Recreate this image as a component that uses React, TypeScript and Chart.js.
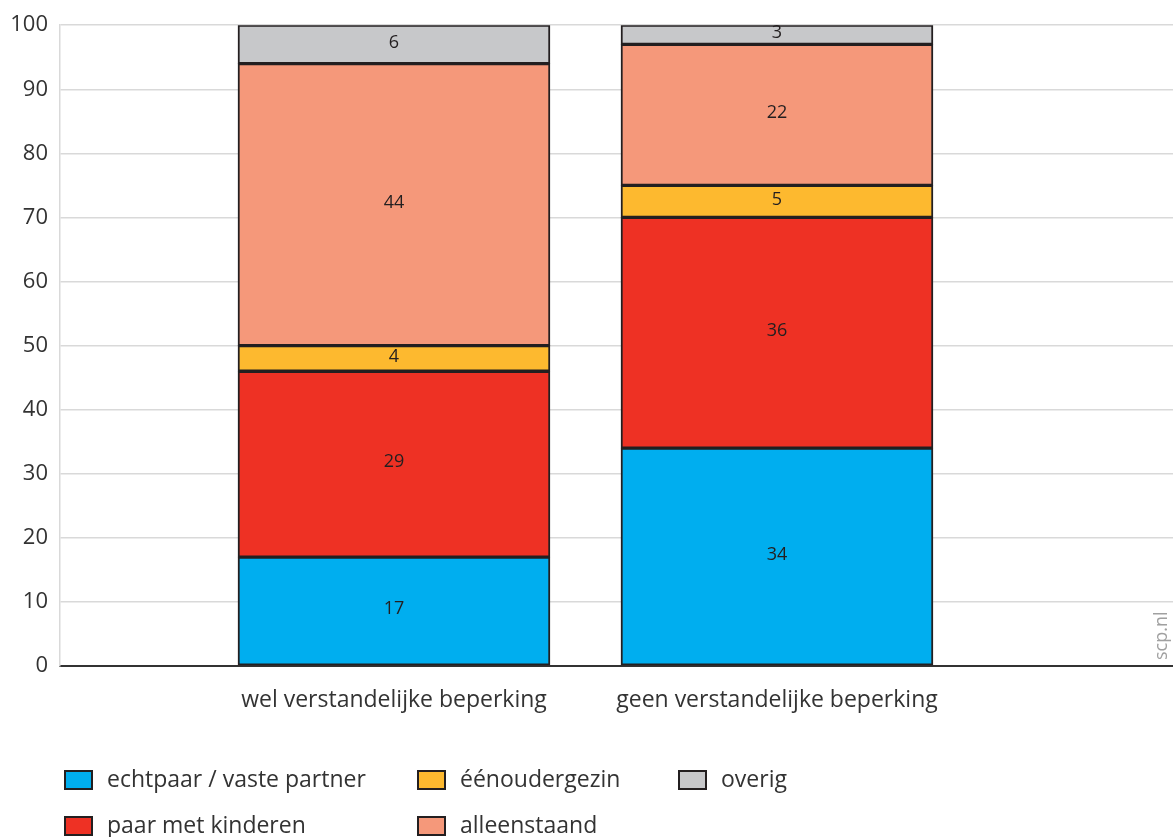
import React, { useEffect, useRef } from "react";
import { Chart, registerables } from "chart.js";

Chart.register(...registerables);

const categories = ["wel verstandelijke beperking", "geen verstandelijke beperking"];
const categoryPositions = [1, 2];
const seriesNames = ["echtpaar / vaste partner", "paar met kinderen", "éénoudergezin", "alleenstaand", "overig"];
const echtpaar = [17, 34];
const paarMetKinderen = [29, 36];
const eenouder = [4, 5];
const alleenstaand = [44, 22];
const overig = [6, 3];
const seriesColors = ["#00aeef", "#ee3124", "#fdb92f", "#f5987a", "#c7c8ca"];
const yTicks = [0, 10, 20, 30, 40, 50, 60, 70, 80, 90, 100];

const FONT = "'Open Sans', sans-serif";
const TEXT = "#333333";

export default function App() {
  const ref = useRef<HTMLCanvasElement | null>(null);
  useEffect(() => {
    document.body.style.margin = "0";
    const seriesValues = [echtpaar, paarMetKinderen, eenouder, alleenstaand, overig];
    const datasets = seriesNames.map((name, i) => ({
      label: name,
      data: categoryPositions.map((x, j) => ({ x, y: seriesValues[i][j] })),
      backgroundColor: seriesColors[i],
      borderColor: "#231f20",
      borderWidth: 2,
      borderSkipped: false,
      barThickness: 312,
    }));

    const labelPlugin = {
      id: "labels",
      afterDatasetsDraw(chart: any) {
        const ctx = chart.ctx;
        ctx.save();
        ctx.font = `18px ${FONT}`;
        ctx.fillStyle = "#231f20";
        ctx.textAlign = "center";
        ctx.textBaseline = "middle";
        chart.data.datasets.forEach((ds: any, i: number) => {
          const meta = chart.getDatasetMeta(i);
          meta.data.forEach((el: any, j: number) => {
            const v = ds.data[j].y;
            ctx.fillText(String(v), el.x, (el.y + el.base) / 2 - 2);
          });
        });
        // source text
        ctx.save();
        ctx.font = `18px ${FONT}`;
        ctx.fillStyle = "#a0a0a0";
        ctx.translate(1162, 660);
        ctx.rotate(-Math.PI / 2);
        ctx.textAlign = "left";
        ctx.textBaseline = "middle";
        ctx.fillText("scp.nl", 0, 0);
        ctx.restore();
        // legend
        const cols = [65, 418, 679];
        const rows = [780, 826];
        ctx.font = `23px ${FONT}`;
        ctx.textAlign = "left";
        ctx.textBaseline = "middle";
        seriesNames.forEach((name, i) => {
          const c = Math.floor(i / 2);
          const r = i % 2;
          const bx = cols[c];
          const by = rows[r];
          ctx.fillStyle = seriesColors[i];
          ctx.fillRect(bx, by - 9, 27, 18);
          ctx.strokeStyle = "#231f20";
          ctx.lineWidth = 2;
          ctx.strokeRect(bx, by - 9, 27, 18);
          ctx.fillStyle = TEXT;
          ctx.fillText(name, bx + 42, by);
        });
        ctx.restore();
      },
    };

    const chart = new Chart(ref.current as HTMLCanvasElement, {
      type: "bar",
      data: { datasets } as any,
      plugins: [labelPlugin],
      options: {
        animation: false,
        responsive: false,
        layout: { padding: { top: 24, right: 0, left: 0, bottom: 0 } },
        plugins: { legend: { display: false }, tooltip: { enabled: false } },
        scales: {
          x: {
            type: "linear",
            stacked: true,
            offset: false,
            min: 0.128,
            max: 3.034,
            grid: { display: false, drawTicks: false, offset: false },
            border: { display: true, color: "#333333", width: 2 },
            afterBuildTicks: (scale: any) => {
              scale.ticks = categoryPositions.map((v) => ({ value: v }));
            },
            afterFit: (scale: any) => {
              scale.height = 837 - 666;
            },
            ticks: {
              autoSkip: false,
              maxRotation: 0,
              padding: 21,
              color: TEXT,
              font: { family: FONT, size: 23 },
              callback: (v: any) => {
                const idx = categoryPositions.indexOf(Number(v));
                return idx >= 0 ? categories[idx] : "";
              },
            },
          },
          y: {
            stacked: true,
            min: 0,
            max: 100,
            afterBuildTicks: (scale: any) => {
              scale.ticks = yTicks.map((v) => ({ value: v }));
            },
            afterFit: (scale: any) => {
              scale.width = 60;
            },
            grid: { color: "#d9d9d9", lineWidth: 1.5, drawTicks: false },
            border: { display: true, color: "#d9d9d9", width: 1.5 },
            ticks: {
              padding: 12,
              color: TEXT,
              font: { family: FONT, size: 22 },
            },
          },
        },
      } as any,
    });
    return () => chart.destroy();
  }, []);
  return (
    <div style={{ position: "absolute", left: 0, top: 0, width: 1173, height: 837 }}>
      <canvas ref={ref} width={1173} height={837} style={{ width: 1173, height: 837 }} />
    </div>
  );
}
